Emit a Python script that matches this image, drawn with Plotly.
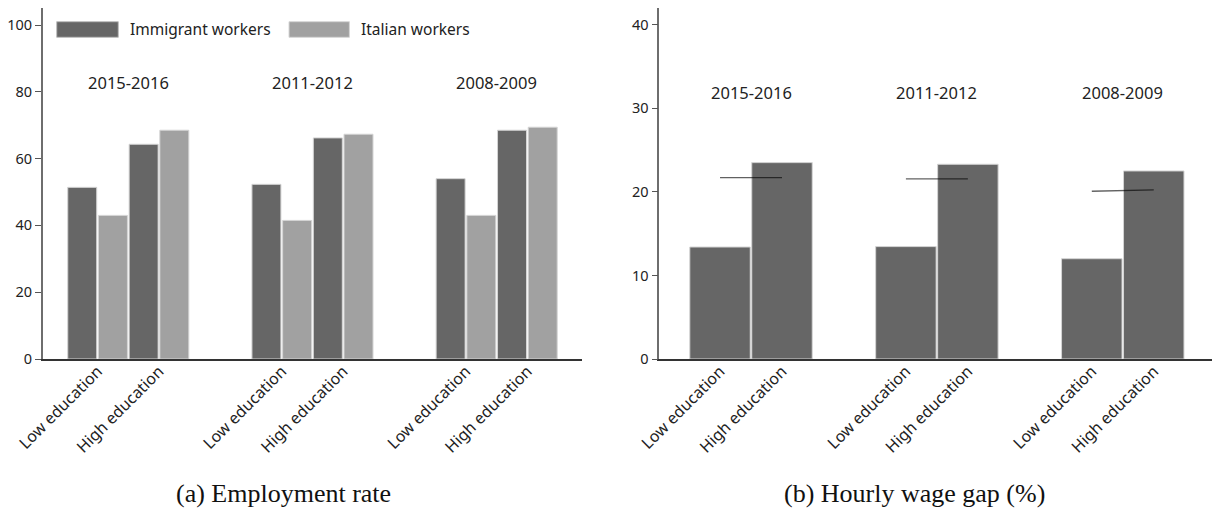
import plotly.graph_objects as go

# ---------------- data ----------------
periods = ["2015-2016", "2011-2012", "2008-2009"]
education = ["Low education", "High education"]

# Employment rate (panel a), ordered period x [low, high]
immigrant_emp = [51.4, 64.3, 52.3, 66.2, 54.0, 68.5]
italian_emp = [43.0, 68.5, 41.5, 67.3, 43.0, 69.4]

# Hourly wage gap (panel b)
wage_gap = [13.4, 23.5, 13.45, 23.3, 12.0, 22.5]
# reference line per period: [value at low, value at high]
ref_line_low = [21.7, 21.55, 20.08]
ref_line_high = [21.7, 21.55, 20.24]

series_names = ["Immigrant workers", "Italian workers"]
caption_a = "(a) Employment rate"
caption_b = "(b) Hourly wage gap (%)"

# ---------------- style ----------------
W, H = 1212, 513
DARK = "#666666"
LIGHT = "#a1a1a1"
EDGE = "#d4d4d4"
FONT = "Noto Sans"
TXT = "#222222"

# category positions (periods separated by one empty slot)
xpos = [gi * 3 + ei for gi in range(len(periods)) for ei in range(len(education))]
xlabels = [e for _ in periods for e in education]
centers = [gi * 3 + 0.5 for gi in range(len(periods))]

fig = go.Figure()

fig.add_trace(go.Bar(x=xpos, y=immigrant_emp, name=series_names[0],
                     marker=dict(color=DARK, line=dict(color=EDGE, width=1)),
                     xaxis="x", yaxis="y", showlegend=False))
fig.add_trace(go.Bar(x=xpos, y=italian_emp, name=series_names[1],
                     marker=dict(color=LIGHT, line=dict(color=EDGE, width=1)),
                     xaxis="x", yaxis="y", showlegend=False))

fig.add_trace(go.Bar(x=xpos, y=wage_gap, name="Wage gap", width=0.976,
                     marker=dict(color=DARK, line=dict(color=EDGE, width=1)),
                     xaxis="x2", yaxis="y2", showlegend=False))

lx, ly = [], []
for gi in range(len(periods)):
    lx += [gi * 3, gi * 3 + 1, None]
    ly += [ref_line_low[gi], ref_line_high[gi], None]
fig.add_trace(go.Scatter(x=lx, y=ly, mode="lines",
                         line=dict(color="rgba(0,0,0,0.62)", width=1.4),
                         xaxis="x2", yaxis="y2", showlegend=False, hoverinfo="skip"))

def px(x):
    return x / W

def py(y):
    return 1 - y / H

ydom = [py(359), py(8)]

xaxis_common = dict(
    tickmode="array", tickvals=xpos, ticktext=xlabels, tickangle=-45,
    showgrid=False, zeroline=False, showline=True, linecolor="#333333", linewidth=1.5,
    ticks="", tickfont=dict(family=FONT, size=16, color=TXT), automargin=False,
    ticklabelstandoff=-5,
)
yaxis_common = dict(
    showgrid=False, zeroline=False, showline=True, linecolor="#6e6e6e", linewidth=1.5,
    ticks="outside", ticklen=6, tickwidth=1.2, tickcolor="#555555",
    tickfont=dict(family=FONT, size=14.5, color=TXT), automargin=False,
)

fig.update_layout(
    template="none",
    width=W, height=H,
    margin=dict(l=0, r=0, t=0, b=0, pad=0),
    paper_bgcolor="white", plot_bgcolor="white",
    barmode="group", bargap=0, bargroupgap=0.056,
    xaxis=dict(domain=[px(42.7), px(581.7)], range=[-0.894, 7.885], anchor="y", **xaxis_common),
    yaxis=dict(domain=ydom, range=[0, 105.1], tickvals=[0, 20, 40, 60, 80, 100], anchor="x", **yaxis_common),
    xaxis2=dict(domain=[px(659.3), 1.0], range=[-0.98, 7.94], anchor="y2", **xaxis_common),
    yaxis2=dict(domain=ydom, range=[0, 42.0], tickvals=[0, 10, 20, 30, 40], anchor="x2", **yaxis_common),
)

annotations = []
for gi, p in enumerate(periods):
    annotations.append(dict(x=centers[gi], y=py(83), xref="x", yref="paper", text=p,
                            showarrow=False, font=dict(family=FONT, size=16.5, color=TXT),
                            xanchor="center", yanchor="middle"))
    annotations.append(dict(x=centers[gi], y=py(92), xref="x2", yref="paper", text=p,
                            showarrow=False, font=dict(family=FONT, size=16.5, color=TXT),
                            xanchor="center", yanchor="middle"))

# legend (drawn as wide swatches like the original)
shapes = [
    dict(type="rect", xref="paper", yref="paper", x0=px(56.7), x1=px(118.3), y0=py(37.3), y1=py(21.7),
         fillcolor=DARK, line=dict(color="#bdbdbd", width=1)),
    dict(type="rect", xref="paper", yref="paper", x0=px(289), x1=px(349.4), y0=py(37.3), y1=py(21.7),
         fillcolor=LIGHT, line=dict(color="#d6d6d6", width=1)),
]
annotations.append(dict(x=px(128), y=py(29.5), xref="paper", yref="paper", text=series_names[0],
                        showarrow=False, xanchor="left", yanchor="middle",
                        font=dict(family=FONT, size=15.5, color=TXT)))
annotations.append(dict(x=px(358.5), y=py(29.5), xref="paper", yref="paper", text=series_names[1],
                        showarrow=False, xanchor="left", yanchor="middle",
                        font=dict(family=FONT, size=15.5, color=TXT)))

# captions
annotations.append(dict(x=px(283), y=py(493), xref="paper", yref="paper", text=caption_a,
                        showarrow=False, xanchor="center", yanchor="middle",
                        font=dict(family="Liberation Serif", size=26, color="#111111")))
annotations.append(dict(x=px(914), y=py(493), xref="paper", yref="paper", text=caption_b,
                        showarrow=False, xanchor="center", yanchor="middle",
                        font=dict(family="Liberation Serif", size=26, color="#111111")))

fig.update_layout(annotations=annotations, shapes=shapes)

fig.write_html("out.html")
